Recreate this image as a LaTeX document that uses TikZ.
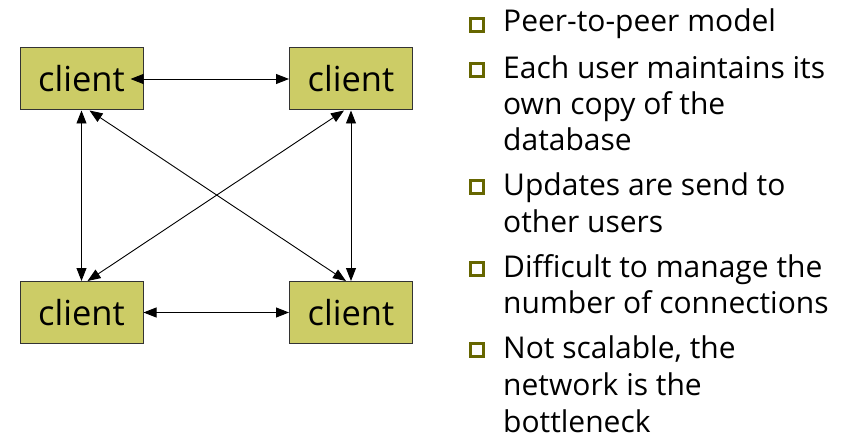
\documentclass[tikz,border=0pt]{standalone}
\usepackage{fontspec}
\setmainfont{Open Sans}
\usetikzlibrary{arrows.meta}
\definecolor{boxfill}{HTML}{CCCC66}
\definecolor{boxline}{HTML}{333333}
\definecolor{olive}{HTML}{666600}
\tikzset{
  clientbox/.style={draw=boxline, line width=1pt, fill=boxfill,
    minimum width=123pt, minimum height=62pt, inner sep=0pt,
    font=\fontsize{34.5}{40}\selectfont},
  link/.style={line width=0.9pt, {Triangle[length=13pt,width=10pt]}-{Triangle[length=13pt,width=10pt]}},
  itemline/.style={anchor=base west, inner sep=0pt, font=\fontsize{30}{36}\selectfont},
  bulletbox/.style={draw=olive, line width=3pt, fill=white, minimum size=12.5pt, inner sep=0pt}
}
\begin{document}
\begin{tikzpicture}[x=1pt,y=-1pt]
\useasboundingbox (0,0) rectangle (847,436);

% four peers
\node[clientbox] (tl) at (81.5,79) {client};
\node[clientbox] (tr) at (351,79) {client};
\node[clientbox] (bl) at (81.5,312.5) {client};
\node[clientbox] (br) at (351,312.5) {client};

% every peer talks to every other peer
\draw[link] ([xshift=-13pt]tl.east) -- (tr.west);
\draw[link] (bl.east) -- (br.west);
\draw[link] (tl.south) -- (bl.north);
\draw[link] (tr.south) -- (br.north);
\draw[link] ([xshift=8pt]tl.south) -- ([xshift=-5pt]br.north);
\draw[link] ([xshift=-7pt]tr.south) -- ([xshift=6pt]bl.north);

% bullet points
\node[bulletbox] (b1) at (477,25) {};
\node[itemline] (t1) at (503,32) {Peer-to-peer model};

\node[bulletbox] (b2) at (477,70) {};
\node[itemline] (t2a) at (503,78) {Each user maintains its};
\node[itemline] (t2b) at (503,114) {own copy of the};
\node[itemline] (t2c) at (503,150) {database};

\node[bulletbox] (b3) at (477,187) {};
\node[itemline] (t3a) at (503,195) {Updates are send to};
\node[itemline] (t3b) at (503,232) {other users};

\node[bulletbox] (b4) at (477,269) {};
\node[itemline] (t4a) at (503,277) {Difficult to manage the};
\node[itemline] (t4b) at (503,313) {number of connections};

\node[bulletbox] (b5) at (477,350) {};
\node[itemline] (t5a) at (503,358) {Not scalable, the};
\node[itemline] (t5b) at (503,395) {network is the};
\node[itemline] (t5c) at (503,432) {bottleneck};
\end{tikzpicture}
\end{document}
